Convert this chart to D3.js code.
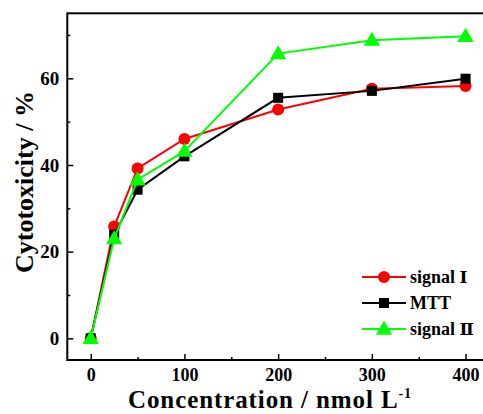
<!DOCTYPE html>
<html><head><meta charset="utf-8">
<script src="https://cdn.jsdelivr.net/npm/d3@7"></script>
<style>body{margin:0;background:#fff}svg{display:block}</style>
</head><body>
<svg id="c" width="483" height="414"></svg>
<script>
const conc = [0, 25, 50, 100, 200, 300, 400];
const signal1 = [0, 25.8, 39.2, 46.0, 52.8, 57.6, 58.2];
const mtt = [0, 23.9, 34.3, 42.0, 55.5, 57.1, 59.9];
const signal2 = [0, 23.0, 36.6, 43.2, 65.7, 68.8, 69.7];
const xTicks = [0, 100, 200, 300, 400];
const yTicks = [0, 20, 40, 60];
const seriesNames = [["signal ", "\u2160"], ["MTT", ""], ["signal ", "\u2161"]];

const svg = d3.select("#c");
const font = "'Liberation Serif','Times New Roman',serif";
const x = d3.scaleLinear().domain([-25, 425]).range([67.3, 489]);
const y = d3.scaleLinear().domain([-5, 75]).range([360, 13.3]);

const series = [
  {name: seriesNames[0], vals: signal1, color: "#ff0000", shape: "circle"},
  {name: seriesNames[1], vals: mtt, color: "#000000", shape: "square"},
  {name: seriesNames[2], vals: signal2, color: "#00ff00", shape: "triangle"}
];

// frame
svg.append("rect").attr("x", x(-25)).attr("y", y(75)).attr("width", x(425)-x(-25)).attr("height", y(-5)-y(75))
  .attr("fill", "none").attr("stroke", "#000").attr("stroke-width", 2);

// x axis ticks (inward)
const xAx = d3.axisBottom(x).tickValues(xTicks).tickSizeInner(-6).tickSizeOuter(0).tickPadding(8);
const gx = svg.append("g").attr("transform", `translate(0,${y(-5)})`).call(xAx);
gx.select(".domain").remove();
gx.selectAll(".tick line").attr("stroke-width", 1.5);
gx.selectAll("text").attr("font-family", font).attr("font-weight", "bold").attr("font-size", 18).attr("fill", "#000");
const xMinor = d3.axisBottom(x).tickValues([50,150,250,350]).tickSizeInner(-3).tickSizeOuter(0).tickFormat("");
const gxm = svg.append("g").attr("transform", `translate(0,${y(-5)})`).call(xMinor);
gxm.select(".domain").remove();
gxm.selectAll(".tick line").attr("stroke-width", 1.5);

// y axis
const yAx = d3.axisLeft(y).tickValues(yTicks).tickSizeInner(-6).tickSizeOuter(0).tickPadding(8);
const gy = svg.append("g").attr("transform", `translate(${x(-25)},0)`).call(yAx);
gy.select(".domain").remove();
gy.selectAll(".tick line").attr("stroke-width", 1.5);
gy.selectAll("text").attr("font-family", font).attr("font-weight", "bold").attr("font-size", 19).attr("fill", "#000");
const yMinor = d3.axisLeft(y).tickValues([10,30,50,70]).tickSizeInner(-3).tickSizeOuter(0).tickFormat("");
const gym = svg.append("g").attr("transform", `translate(${x(-25)},0)`).call(yMinor);
gym.select(".domain").remove();
gym.selectAll(".tick line").attr("stroke-width", 1.5);

// axis titles
const xt = svg.append("text").attr("x", 270).attr("y", 408).attr("text-anchor", "middle")
  .attr("font-family", font).attr("font-weight", "bold").attr("font-size", 25).attr("letter-spacing", 0.9);
xt.append("tspan").text("Concentration / nmol L");
xt.append("tspan").attr("font-size", 14).attr("dy", -10).text("-1");

svg.append("text").attr("transform", "translate(33,182) rotate(-90)").attr("text-anchor", "middle")
  .attr("font-family", font).attr("font-weight", "bold").attr("font-size", 26).text("Cytotoxicity / %");

function drawMarker(g, shape, cx, cy, color) {
  if (shape === "circle") g.append("circle").attr("cx", cx).attr("cy", cy).attr("r", 6).attr("fill", color);
  else if (shape === "square") g.append("rect").attr("x", cx-5).attr("y", cy-5).attr("width", 10).attr("height", 10).attr("fill", color);
  else g.append("path").attr("d", d3.symbol(d3.symbolTriangle, 115)()).attr("transform", `translate(${cx},${cy+1})`).attr("fill", color);
}

const line = d3.line().x((d,i)=>x(conc[i])).y(d=>y(d));
series.forEach(s => {
  const g = svg.append("g");
  g.append("path").attr("d", line(s.vals)).attr("fill", "none").attr("stroke", s.color).attr("stroke-width", 2);
  s.vals.forEach((v,i) => drawMarker(g, s.shape, x(conc[i]), y(v), s.color));
});

// legend
series.forEach((s,i) => {
  const ly = 277 + i*26;
  const g = svg.append("g");
  g.append("line").attr("x1", 362).attr("x2", 406).attr("y1", ly).attr("y2", ly).attr("stroke", s.color).attr("stroke-width", 2);
  drawMarker(g, s.shape, 384, ly, s.color);
  const t = g.append("text").attr("x", 410).attr("y", ly+6).attr("font-family", font).attr("font-weight", "bold").attr("font-size", 18);
  t.append("tspan").text(s.name[0]);
  if (s.name[1]) t.append("tspan").attr("font-family", "'DejaVu Serif',serif").attr("font-weight", "bold").attr("font-size", 17).text(s.name[1]);
});
</script>
</body></html>
